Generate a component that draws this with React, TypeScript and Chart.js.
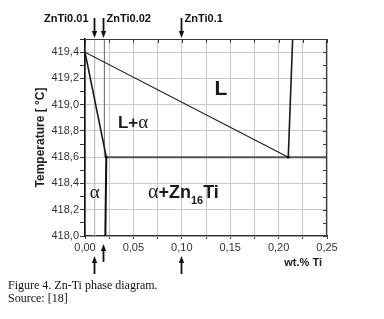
import { useEffect, useRef } from 'react';
import { Chart, registerables } from 'chart.js';

Chart.register(...registerables);

// ---- data ----
const xRange = [0, 0.25];
const yRange = [418.0, 419.5];

const liquidusLeftX = [0, 0.21];
const liquidusLeftY = [419.4, 418.6];
const solidusX = [0, 0.022];
const solidusY = [419.4, 418.6];
const solvusX = [0.022, 0.021];
const solvusY = [418.6, 418.0];
const eutecticX = [0.022, 0.25];
const eutecticY = [418.6, 418.6];
const liquidusRightX = [0.21, 0.2145];
const liquidusRightY = [418.6, 419.5];
const invariantX = [0.022, 0.21];
const invariantY = [418.6, 418.6];

const alloyNames = ['ZnTi0.01', 'ZnTi0.02', 'ZnTi0.1'];
const alloyX = [0.01, 0.02, 0.1];

const xTitle = 'wt.% Ti';
const yTitle = 'Temperature [ °C]';

const pts = (xs: number[], ys: number[]) => xs.map((x, i) => ({ x, y: ys[i] }));

const SANS = '"Liberation Sans", Arial, sans-serif';
const SERIF = '"Liberation Serif", "Times New Roman", serif';

type Run = { text: string; font: string; dy?: number };

function drawRuns(ctx: CanvasRenderingContext2D, x: number, y: number, runs: Run[]) {
  let cx = x;
  for (const r of runs) {
    ctx.font = r.font;
    ctx.fillText(r.text, cx, y + (r.dy || 0));
    cx += ctx.measureText(r.text).width;
  }
}

function arrow(ctx: CanvasRenderingContext2D, px: number, tail: number, tip: number) {
  const dir = tip > tail ? 1 : -1;
  const head = 7;
  ctx.beginPath();
  ctx.moveTo(px, tail);
  ctx.lineTo(px, tip - dir * head);
  ctx.stroke();
  ctx.beginPath();
  ctx.moveTo(px - 2.6, tip - dir * head);
  ctx.lineTo(px + 2.6, tip - dir * head);
  ctx.lineTo(px, tip);
  ctx.closePath();
  ctx.fill();
}

const overlayPlugin = {
  id: 'overlay',
  afterDatasetsDraw(chart: any) {
    const { ctx, chartArea, scales } = chart;
    const x = scales.x;
    const y = scales.y;
    ctx.save();
    // frame top & right
    ctx.strokeStyle = '#3c3c3c';
    ctx.lineWidth = 1.2;
    ctx.beginPath();
    ctx.moveTo(chartArea.left, chartArea.top + 0.5);
    ctx.lineTo(chartArea.right - 0.5, chartArea.top + 0.5);
    ctx.lineTo(chartArea.right - 0.5, chartArea.bottom);
    ctx.stroke();
    // inward ticks top and right
    ctx.lineWidth = 1;
    ctx.beginPath();
    x.ticks.forEach((t: any) => {
      const px = Math.round(x.getPixelForValue(t.value)) + 0.5;
      ctx.moveTo(px, chartArea.top);
      ctx.lineTo(px, chartArea.top + 4);
    });
    y.ticks.forEach((t: any) => {
      const py = Math.round(y.getPixelForValue(t.value)) + 0.5;
      ctx.moveTo(chartArea.right, py);
      ctx.lineTo(chartArea.right - 4, py);
    });
    ctx.stroke();

    // phase labels
    ctx.fillStyle = '#1a1a1a';
    ctx.textBaseline = 'alphabetic';
    ctx.textAlign = 'left';
    const X = (v: number) => x.getPixelForValue(v);
    const Y = (v: number) => y.getPixelForValue(v);
    ctx.font = `bold 21px ${SANS}`;
    ctx.textAlign = 'center';
    ctx.fillText('L', X(0.1405), Y(419.07));
    ctx.textAlign = 'left';
    drawRuns(ctx, X(0.034), Y(418.82), [
      { text: 'L+', font: `bold 17px ${SANS}` },
      { text: 'α', font: `19px ${SERIF}` },
    ]);
    drawRuns(ctx, X(0.005), Y(418.29), [{ text: 'α', font: `19px ${SERIF}` }]);
    drawRuns(ctx, X(0.065), Y(418.29), [
      { text: 'α', font: `20px ${SERIF}` },
      { text: '+Zn', font: `bold 18px ${SANS}` },
      { text: '16', font: `bold 11px ${SANS}`, dy: 6 },
      { text: 'Ti', font: `bold 18px ${SANS}` },
    ]);

    // x axis title (right aligned below the axis)
    ctx.fillStyle = '#222';
    ctx.font = `bold 11px ${SANS}`;
    ctx.textAlign = 'right';
    ctx.textBaseline = 'middle';
    ctx.fillText(xTitle, chartArea.right - 5, 263);

    // alloy arrows & names
    ctx.strokeStyle = '#111';
    ctx.fillStyle = '#111';
    ctx.lineWidth = 1.8;
    ctx.font = `bold 11px ${SANS}`;
    ctx.textBaseline = 'middle';
    alloyX.forEach((v, i) => {
      const px = Math.round(X(v)) - 0.5;
      arrow(ctx, px, 18, chartArea.top - 1);
      const bottomTip = i === 1 ? 244 : 256;
      arrow(ctx, px, bottomTip + 18, bottomTip);
      if (i === 0) {
        ctx.textAlign = 'right';
        ctx.fillText(alloyNames[i], px - 6, 19);
      } else {
        ctx.textAlign = 'left';
        ctx.fillText(alloyNames[i], px + 3, 19);
      }
    });
    ctx.restore();
  },
};

export default function App() {
  const ref = useRef<HTMLCanvasElement>(null);
  useEffect(() => {
    if (!ref.current) return;
    const line = (data: any[], color: string, width: number) => ({
      data,
      borderColor: color,
      borderWidth: width,
      pointRadius: 0,
      showLine: true,
      fill: false,
      tension: 0,
    });
    const chart = new Chart(ref.current, {
      type: 'scatter',
      data: {
        datasets: [
          {
            data: pts(invariantX, invariantY),
            pointStyle: 'rect',
            pointRadius: 1.8,
            backgroundColor: '#111',
            borderColor: '#111',
            borderWidth: 0,
            showLine: false,
          } as any,
          line(pts(liquidusLeftX, liquidusLeftY), '#1a1a1a', 1.1),
          line(pts(solidusX, solidusY), '#1a1a1a', 1.6),
          line(pts(solvusX, solvusY), '#111', 2),
          line(pts(liquidusRightX, liquidusRightY), '#1a1a1a', 1.6),
          line(pts(eutecticX, eutecticY), '#555', 2),
          line(pts([alloyX[1], alloyX[1]], [eutecticY[0], yRange[1]]), '#666', 1),
          line(pts([alloyX[0], alloyX[0]], [yRange[0], yRange[1]]), '#b0b0b0', 1),
        ],
      },
      options: {
        animation: false,
        responsive: false,
        events: [],
        layout: { padding: { left: 0, right: 57, top: 39, bottom: 0 } },
        plugins: { legend: { display: false }, tooltip: { enabled: false } },
        scales: {
          x: {
            type: 'linear',
            min: xRange[0],
            max: xRange[1],
            afterFit: (s: any) => {
              s.height = 83;
            },
            ticks: {
              stepSize: 0.025,
              autoSkip: false,
              maxRotation: 0,
              padding: 2,
              color: '#333',
              font: { family: SANS, size: 11 },
              callback: (v: any) => {
                const n = Math.round(Number(v) / 0.025);
                return n % 2 === 0 ? Number(v).toFixed(2).replace('.', ',') : '';
              },
            },
            grid: { color: '#c8c8c8', tickColor: '#444', tickLength: 3, lineWidth: 1 },
            border: { color: '#333', width: 1.2 },
          },
          y: {
            type: 'linear',
            min: yRange[0],
            max: yRange[1],
            afterFit: (s: any) => {
              s.width = 85;
            },
            ticks: {
              stepSize: 0.1,
              autoSkip: false,
              padding: 1,
              color: '#333',
              font: { family: SANS, size: 11 },
              callback: (v: any) => {
                const n = Math.round(Number(v) * 10);
                return n % 2 === 0 ? Number(v).toFixed(1).replace('.', ',') : '';
              },
            },
            grid: {
              color: (c: any) =>
                Math.round(c.tick.value * 10) % 2 === 0 ? '#c8c8c8' : 'rgba(0,0,0,0)',
              tickColor: '#333',
              tickLength: 5,
            },
            border: { color: '#111', width: 1.6 },
            title: {
              display: true,
              text: yTitle,
              color: '#222',
              font: { family: SANS, size: 12, weight: 'bold' },
              padding: { top: 33, bottom: 0 },
            },
          },
        },
      },
      plugins: [overlayPlugin],
    } as any);
    return () => chart.destroy();
  }, []);

  return (
    <div style={{ position: 'absolute', left: 0, top: 0, width: 384, height: 319, background: '#fff' }}>
      <canvas ref={ref} width={384} height={319} style={{ display: 'block' }} />
      <div
        style={{
          position: 'absolute',
          left: 8,
          top: 279,
          fontFamily: SERIF,
          fontSize: 12,
          lineHeight: '12.5px',
          color: '#111',
        }}
      >
        <div>Figure 4. Zn-Ti phase diagram.</div>
        <div>Source: [18]</div>
      </div>
    </div>
  );
}
